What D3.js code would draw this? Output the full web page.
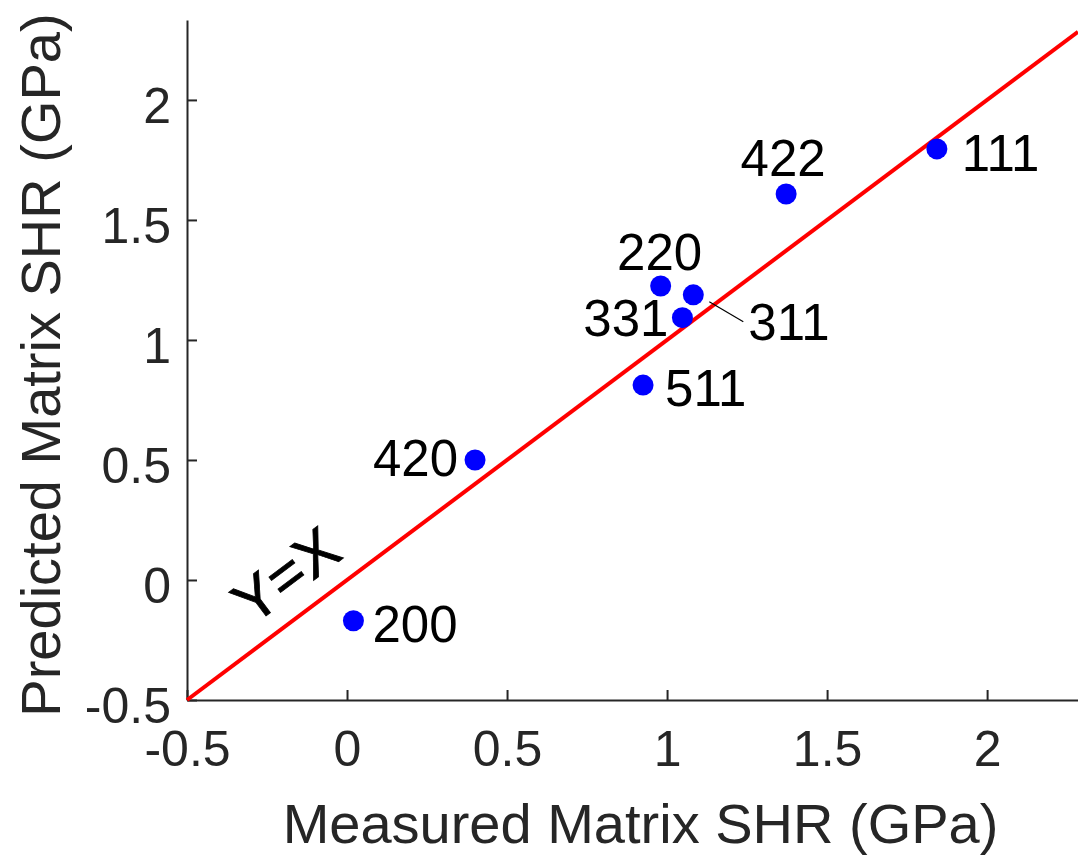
<!DOCTYPE html>
<html>
<head>
<meta charset="utf-8">
<script src="https://cdn.jsdelivr.net/npm/d3@7"></script>
<style>
  body { margin: 0; background: #fff; }
  text { font-family: Arial, "Liberation Sans", sans-serif; }
</style>
</head>
<body>
<div class="scatter"></div>
<script>
let FRAME_WIDTH = 1078;
let FRAME_HEIGHT = 855;
let MARGINS = {left: 187, right: 0, top: 20, bottom: 155};

// data
let planes = ["200", "420", "511", "331", "220", "311", "422", "111"];
let measured = [0.02, 0.40, 0.925, 1.048, 0.98, 1.082, 1.372, 1.843];
let predicted = [-0.17, 0.50, 0.812, 1.093, 1.225, 1.188, 1.608, 1.796];

let xTicks = [-0.5, 0, 0.5, 1, 1.5, 2];
let yTicks = [-0.5, 0, 0.5, 1, 1.5, 2];
let tickLabels = ["-0.5", "0", "0.5", "1", "1.5", "2"];

let X_LABEL = "Measured Matrix SHR (GPa)";
let Y_LABEL = "Predicted Matrix SHR (GPa)";

let data = planes.map((p, i) => ({plane: p, x: measured[i], y: predicted[i]}));

let SCATTER_FRAME = d3.select('.scatter')
                    .append("svg")
                    .attr("height", FRAME_HEIGHT)
                    .attr("width", FRAME_WIDTH);

let SCATTER_WIDTH = FRAME_WIDTH - MARGINS.left - MARGINS.right;
let SCATTER_HEIGHT = FRAME_HEIGHT - MARGINS.top - MARGINS.bottom;

const X_SCALE = d3.scaleLinear()
                  .domain([-0.5, 2.284])
                  .range([MARGINS.left, MARGINS.left + SCATTER_WIDTH]);

const Y_SCALE = d3.scaleLinear()
                  .domain([-0.5, 2.333])
                  .range([MARGINS.top + SCATTER_HEIGHT, MARGINS.top]);

const AXIS_COLOR = "#262626";

// bottom axis, ticks pointing inside
let xAxis = SCATTER_FRAME.append("g")
    .attr("transform", "translate(0," + Y_SCALE(-0.5) + ")")
    .call(d3.axisBottom(X_SCALE)
            .tickValues(xTicks)
            .tickSizeInner(-10)
            .tickSizeOuter(0)
            .tickPadding(30)
            .tickFormat((d, i) => tickLabels[i]));

// left axis
let yAxis = SCATTER_FRAME.append("g")
    .attr("transform", "translate(" + X_SCALE(-0.5) + ",0)")
    .call(d3.axisLeft(Y_SCALE)
            .tickValues(yTicks)
            .tickSizeInner(-10)
            .tickSizeOuter(0)
            .tickPadding(16)
            .tickFormat((d, i) => tickLabels[i]));

[xAxis, yAxis].forEach(ax => {
    ax.select(".domain").attr("stroke", AXIS_COLOR).attr("stroke-width", 2);
    ax.selectAll(".tick line").attr("stroke", AXIS_COLOR).attr("stroke-width", 2);
    ax.selectAll(".tick text")
      .attr("fill", AXIS_COLOR)
      .attr("font-size", "50px")
      .attr("font-family", "Arial, 'Liberation Sans', sans-serif");
});
xAxis.selectAll(".tick text").attr("dy", "0.71em");
yAxis.selectAll(".tick text").attr("dy", "0.45em");

// axis titles
SCATTER_FRAME.append("text")
    .attr("x", (MARGINS.left + FRAME_WIDTH) / 2 + 8)
    .attr("y", 843)
    .attr("text-anchor", "middle")
    .attr("font-size", "56px")
    .attr("fill", AXIS_COLOR)
    .text(X_LABEL);

SCATTER_FRAME.append("text")
    .attr("transform", "translate(60," + 365 + ") rotate(-90)")
    .attr("text-anchor", "middle")
    .attr("font-size", "56px")
    .attr("fill", AXIS_COLOR)
    .text(Y_LABEL);

// y = x reference line
let lineEnd = Math.min(X_SCALE.domain()[1], Y_SCALE.domain()[1]);
SCATTER_FRAME.append("line")
    .attr("x1", X_SCALE(-0.5))
    .attr("y1", Y_SCALE(-0.5))
    .attr("x2", X_SCALE(lineEnd))
    .attr("y2", Y_SCALE(lineEnd))
    .attr("stroke", "#ff0000")
    .attr("stroke-width", 4);

// Y=X label along the line
let angle = Math.atan2(Y_SCALE(0) - Y_SCALE(1), X_SCALE(1) - X_SCALE(0)) * 180 / Math.PI;
let lblX = X_SCALE(-0.152), lblY = Y_SCALE(-0.049);
SCATTER_FRAME.append("text")
    .attr("transform", "translate(" + lblX + "," + lblY + ") rotate(" + (-angle) + ")")
    .attr("text-anchor", "middle")
    .attr("font-size", "60px")
    .attr("fill", "#000")
    .attr("stroke", "#000")
    .attr("stroke-width", 0.8)
    .text("Y=X");

// points
SCATTER_FRAME.selectAll("circle")
    .data(data)
    .enter()
    .append("circle")
      .attr("cx", d => X_SCALE(d.x))
      .attr("cy", d => Y_SCALE(d.y))
      .attr("r", 10.5)
      .attr("fill", "#0000ff");

// label placement (pixel offsets from each point)
let place = {
    "200": {dx: 19, dy: 3, anchor: "start"},
    "420": {dx: -17, dy: -2, anchor: "end"},
    "511": {dx: 22, dy: 3, anchor: "start"},
    "331": {dx: -14, dy: 0, anchor: "end"},
    "220": {dx: -1, dy: -34, anchor: "middle"},
    "311": {dx: 55, dy: 27, anchor: "start"},
    "422": {dx: -3, dy: -36, anchor: "middle"},
    "111": {dx: 25, dy: 4, anchor: "start"}
};

// leader line for the crowded 311 label
let p311 = data.find(d => d.plane === "311");
SCATTER_FRAME.append("line")
    .attr("x1", X_SCALE(p311.x) + 16)
    .attr("y1", Y_SCALE(p311.y) + 7)
    .attr("x2", X_SCALE(p311.x) + 50)
    .attr("y2", Y_SCALE(p311.y) + 27)
    .attr("stroke", "#000")
    .attr("stroke-width", 1.2);

SCATTER_FRAME.selectAll(".plabel")
    .data(data)
    .enter()
    .append("text")
      .attr("class", "plabel")
      .attr("x", d => X_SCALE(d.x) + place[d.plane].dx)
      .attr("y", d => Y_SCALE(d.y) + place[d.plane].dy)
      .attr("dy", "0.36em")
      .attr("text-anchor", d => place[d.plane].anchor)
      .attr("font-size", "51px")
      .attr("fill", "#000")
      .text(d => d.plane);
</script>
</body>
</html>
